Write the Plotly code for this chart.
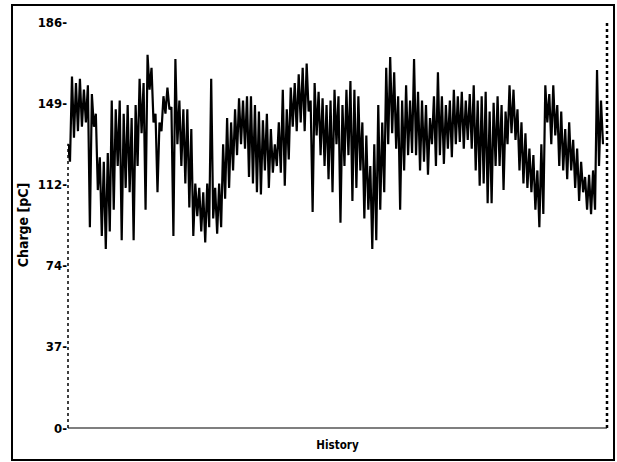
import plotly.graph_objects as go

# Envelope readings of the charge history (pC): per step a high and a low value
charge_high = [130, 161, 158, 160, 155, 157, 153, 144, 124, 122, 126, 150, 146, 150, 144, 148, 142, 148, 160, 158,
               171, 165, 144, 140, 152, 156, 147, 169, 150, 146, 146, 137, 112, 110, 108, 112, 160, 110, 112, 130,
               142, 140, 146, 151, 150, 152, 152, 148, 145, 141, 144, 137, 130, 140, 155, 146, 156, 158, 162, 165,
               167, 150, 158, 154, 151, 148, 150, 155, 152, 148, 155, 159, 155, 152, 140, 134, 120, 130, 148, 140,
               165, 170, 163, 152, 150, 157, 150, 169, 154, 150, 148, 142, 152, 163, 152, 148, 150, 155, 152, 154,
               150, 153, 157, 150, 152, 154, 145, 149, 152, 148, 145, 157, 155, 146, 140, 135, 128, 125, 118, 130,
               157, 153, 157, 148, 145, 137, 140, 132, 128, 122, 115, 116, 118, 164, 150]
charge_low = [122, 133, 136, 138, 140, 92, 138, 109, 88, 82, 90, 100, 120, 86, 110, 108, 86, 120, 135, 100,
              155, 140, 108, 136, 144, 146, 88, 130, 120, 112, 101, 88, 97, 90, 85, 92, 96, 89, 92, 105,
              110, 118, 125, 130, 128, 115, 112, 108, 107, 118, 110, 117, 120, 117, 111, 123, 138, 136, 140, 136,
              145, 99, 134, 125, 120, 114, 108, 130, 94, 120, 125, 104, 110, 118, 96, 100, 82, 86, 100, 108,
              130, 135, 128, 100, 118, 125, 126, 125, 118, 122, 116, 130, 120, 125, 121, 128, 124, 130, 131, 128,
              132, 128, 118, 111, 112, 103, 103, 120, 120, 109, 130, 135, 132, 118, 112, 110, 108, 100, 92, 98,
              140, 130, 134, 120, 118, 114, 118, 110, 104, 108, 100, 98, 100, 120, 130]

y_ticks = [0, 37.2, 74.4, 111.6, 148.8, 186]
y_tick_labels = ["0-", "37-", "74-", "112-", "149-", "186-"]

values = []
for h, l in zip(charge_high, charge_low):
    values.append(h)
    values.append(l)
idx = list(range(len(values)))
xmax = (len(values) - 1) * (607 - 68) / (603 - 68)

fig = go.Figure()
fig.add_trace(go.Scatter(x=idx, y=values, mode="lines",
                         line=dict(color="black", width=2.2), showlegend=False, hoverinfo="skip"))

cond = "DejaVu Sans Condensed, DejaVu Sans, sans-serif"

fig.update_layout(
    width=617, height=462,
    margin=dict(l=68, r=10, t=22, b=34),
    paper_bgcolor="white", plot_bgcolor="white",
    font=dict(family=cond, color="black", size=13),
    xaxis=dict(range=[0, xmax], showticklabels=False, ticks="", showgrid=False, zeroline=False,
               showline=False,
               title=dict(text="History", font=dict(family=cond, size=11.5, weight="bold"), standoff=12)),
    yaxis=dict(range=[0, 186], tickvals=y_ticks, ticktext=y_tick_labels, ticks="", showgrid=False,
               zeroline=False, showline=False, ticklabelstandoff=0,
               tickfont=dict(family=cond, size=13, weight="bold"),
               title=dict(text="Charge [pC]", font=dict(family=cond, size=14, weight="bold"),
                          standoff=5)),
)

# outer frame
fig.add_shape(type="rect", xref="paper", yref="paper", x0=-0.1039, x1=1.013, y0=-0.0788, y1=1.0419,
              line=dict(color="black", width=2))
# left dotted axis (below the start of the trace)
fig.add_shape(type="line", xref="paper", yref="paper", x0=0, x1=0, y0=0, y1=0.70,
              line=dict(color="black", width=1.5, dash="dot"))
# right dotted axis
fig.add_shape(type="line", xref="paper", yref="paper", x0=1, x1=1, y0=0, y1=1.0,
              line=dict(color="black", width=2.5, dash="dot"))
# bottom axis
fig.add_shape(type="line", xref="paper", yref="paper", x0=0, x1=1, y0=0, y1=0,
              line=dict(color="black", width=1.2))

fig.write_html("out.html")
